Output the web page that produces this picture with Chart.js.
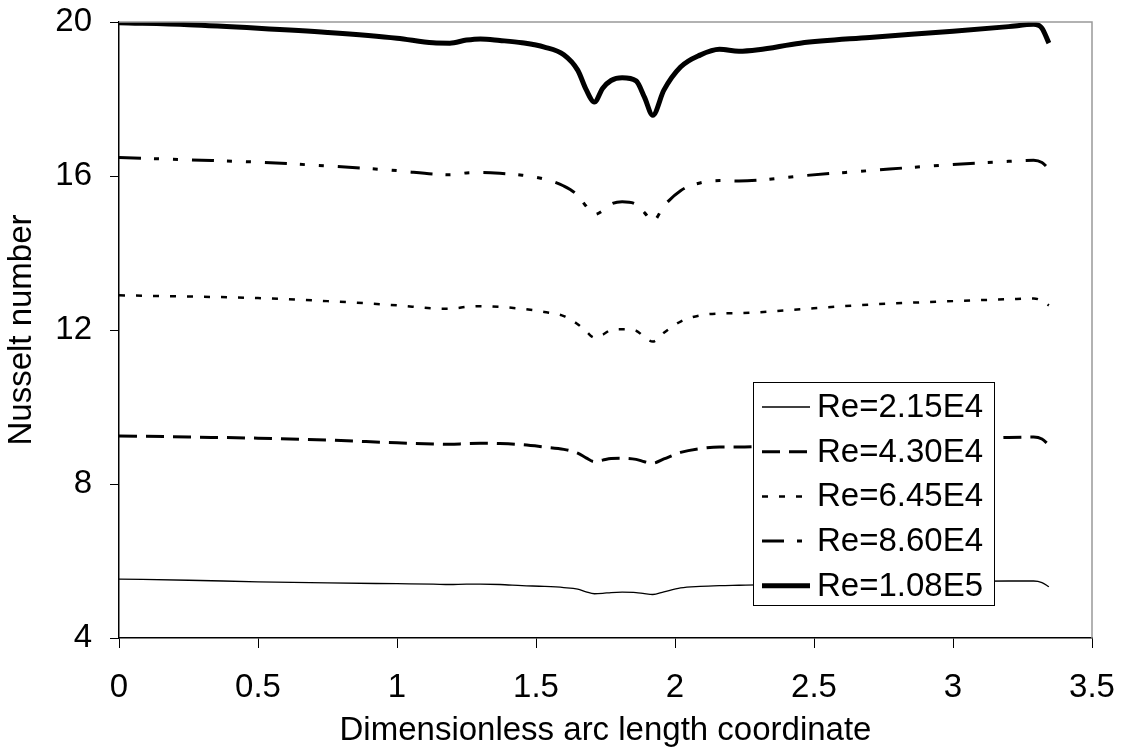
<!DOCTYPE html>
<html>
<head>
<meta charset="utf-8">
<script src="https://cdn.jsdelivr.net/npm/chart.js@4.4.1/dist/chart.umd.min.js"></script>
<style>
  body { margin: 0; background: #fff; }
  #wrap { width: 1126px; height: 753px; }
</style>
</head>
<body>
<div id="wrap"><canvas id="myChart" width="1126" height="753"></canvas></div>
<script>
// arc length positions (shared by all curves)
const arcLength = [0, 0.25, 0.5, 0.75, 1.0, 1.13, 1.19, 1.25, 1.3, 1.37, 1.45, 1.53, 1.6, 1.65, 1.68, 1.71,
  1.74, 1.77, 1.81, 1.86, 1.89, 1.92, 1.96, 2.02, 2.09, 2.16, 2.23, 2.3, 2.45, 2.7, 3.0, 3.2, 3.29, 3.32, 3.345];

const nuRe215E4 = [5.53, 5.5, 5.46, 5.43, 5.41, 5.4, 5.39, 5.4, 5.4, 5.39, 5.36, 5.34, 5.31, 5.27, 5.2, 5.15,
  5.16, 5.18, 5.19, 5.18, 5.15, 5.13, 5.2, 5.3, 5.34, 5.36, 5.37, 5.38, 5.41, 5.44, 5.47, 5.48, 5.48, 5.44, 5.33];
const nuRe430E4 = [9.25, 9.22, 9.19, 9.14, 9.07, 9.04, 9.03, 9.05, 9.06, 9.05, 9.02, 8.96, 8.9, 8.8, 8.68, 8.58,
  8.62, 8.66, 8.67, 8.64, 8.58, 8.54, 8.65, 8.82, 8.92, 8.96, 8.96, 8.97, 9.01, 9.08, 9.16, 9.21, 9.22, 9.17, 9.01];
const nuRe645E4 = [12.9, 12.87, 12.83, 12.75, 12.64, 12.56, 12.55, 12.6, 12.62, 12.6, 12.55, 12.47, 12.36, 12.15, 11.97, 11.8,
  11.88, 12.0, 12.02, 11.98, 11.82, 11.7, 11.93, 12.22, 12.38, 12.43, 12.44, 12.46, 12.54, 12.66, 12.75, 12.8, 12.82, 12.76, 12.64];
const nuRe860E4 = [16.48, 16.42, 16.36, 16.26, 16.14, 16.05, 16.03, 16.08, 16.09, 16.07, 16.02, 15.92, 15.74, 15.5, 15.22, 15.0,
  15.1, 15.27, 15.33, 15.26, 15.05, 14.82, 15.22, 15.62, 15.82, 15.88, 15.87, 15.89, 16.0, 16.14, 16.3, 16.38, 16.41, 16.35, 16.18];
const nuRe108E5 = [19.98, 19.93, 19.84, 19.73, 19.58, 19.46, 19.45, 19.53, 19.56, 19.52, 19.46, 19.35, 19.15, 18.75, 18.25, 17.92,
  18.28, 18.48, 18.55, 18.47, 18.05, 17.58, 18.23, 18.83, 19.14, 19.29, 19.24, 19.28, 19.45, 19.6, 19.76, 19.88, 19.94, 19.84, 19.45];

const seriesNames = ['Re=2.15E4', 'Re=4.30E4', 'Re=6.45E4', 'Re=8.60E4', 'Re=1.08E5'];
const seriesValues = [nuRe215E4, nuRe430E4, nuRe645E4, nuRe860E4, nuRe108E5];
const xTicks = [0, 0.5, 1, 1.5, 2, 2.5, 3, 3.5];
const yTicks = [4, 8, 12, 16, 20];

const styles = [
  { width: 1.3, dash: [] },
  { width: 3, dash: [18, 9] },
  { width: 2.5, dash: [6, 11] },
  { width: 3, dash: [22, 13, 5, 14, 5, 14] },
  { width: 5, dash: [] }
];

const FONT = "'Liberation Sans', Arial, sans-serif";

const datasets = seriesNames.map((name, i) => ({
  label: name,
  data: arcLength.map((x, j) => ({ x: x, y: seriesValues[i][j] })),
  borderColor: '#000',
  borderWidth: styles[i].width,
  borderDash: styles[i].dash,
  pointRadius: 0,
  fill: false,
  cubicInterpolationMode: 'monotone'
}));

// gray top/right frame + legend box inside the plot
const framePlugin = {
  id: 'frame',
  afterDraw(chart) {
    const { ctx, chartArea: a } = chart;
    ctx.save();
    ctx.strokeStyle = '#999';
    ctx.lineWidth = 1.5;
    ctx.beginPath();
    ctx.moveTo(a.left, a.top);
    ctx.lineTo(a.right, a.top);
    ctx.lineTo(a.right, a.bottom);
    ctx.stroke();

    // legend
    const bx = 753, by = 382, bw = 241, bh = 223;
    ctx.fillStyle = '#fff';
    ctx.fillRect(bx, by, bw, bh);
    ctx.strokeStyle = '#000';
    ctx.lineWidth = 1;
    ctx.setLineDash([]);
    ctx.strokeRect(bx + 0.5, by + 0.5, bw, bh);
    ctx.font = '33px ' + FONT;
    ctx.textBaseline = 'middle';
    ctx.fillStyle = '#000';
    seriesNames.forEach((name, i) => {
      const cy = 407 + i * 44.7;
      ctx.lineWidth = styles[i].width;
      ctx.setLineDash(styles[i].dash);
      ctx.beginPath();
      ctx.moveTo(762, cy);
      ctx.lineTo(810, cy);
      ctx.stroke();
      ctx.setLineDash([]);
      ctx.fillText(name, 817, cy + 1);
    });
    ctx.restore();
  }
};

const ctx = document.getElementById('myChart');
new Chart(ctx, {
  type: 'line',
  data: { datasets: datasets },
  plugins: [framePlugin],
  options: {
    responsive: false,
    animation: false,
    layout: { padding: { top: 22, right: 34, left: 0, bottom: 0 } },
    plugins: { legend: { display: false }, tooltip: { enabled: false } },
    scales: {
      x: {
        type: 'linear',
        min: 0, max: 3.5,
        afterBuildTicks: (s) => { s.ticks = xTicks.map(v => ({ value: v })); },
        afterFit: (s) => { s.height = 115; s.paddingLeft = 0; s.paddingRight = 0; },
        ticks: { color: '#000', font: { size: 33, family: FONT }, padding: 20, maxRotation: 0,
          callback: (v) => String(v) },
        grid: { drawOnChartArea: false, drawTicks: true, tickLength: 10, color: '#000' },
        border: { color: '#000', width: 1.5 },
        title: { display: true, text: 'Dimensionless arc length coordinate', color: '#000',
          font: { size: 33, family: FONT }, padding: { top: 0, bottom: 2 } }
      },
      y: {
        min: 4, max: 20,
        afterBuildTicks: (s) => { s.ticks = yTicks.map(v => ({ value: v })); },
        afterFit: (s) => { s.width = 119; s.paddingTop = 0; s.paddingBottom = 0; },
        ticks: { color: '#000', font: { size: 33, family: FONT }, padding: 18,
          callback: (v) => String(v) },
        grid: { drawOnChartArea: false, drawTicks: true, tickLength: 9, color: '#000' },
        border: { color: '#000', width: 1.5 },
        title: { display: true, text: 'Nusselt number', color: '#000',
          font: { size: 33, family: FONT }, padding: { top: 2, bottom: 0 } }
      }
    }
  }
});
</script>
</body>
</html>
